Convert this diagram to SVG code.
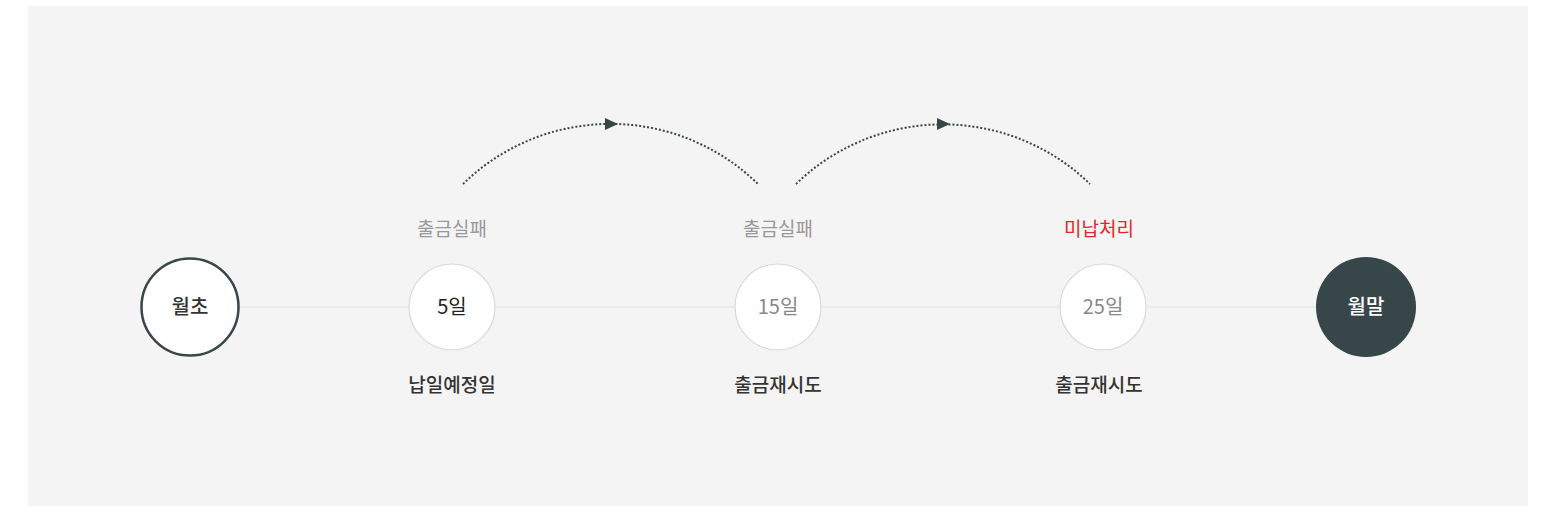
<svg xmlns="http://www.w3.org/2000/svg" width="1564" height="517" viewBox="0 0 1564 517">
<style>
.lbl{font-family:"Noto Sans CJK KR","Noto Sans",sans-serif;font-size:19px;text-anchor:middle}
.fail{fill:#999}
.red{fill:#e0282e}
.bot{fill:#333;font-weight:500}
.day{font-family:"Noto Sans CJK KR","Noto Sans",sans-serif;font-size:20px;text-anchor:middle}
.arc{fill:none;stroke:#374649;stroke-width:2;stroke-dasharray:2 2}
.small{fill:#fff;stroke:#d9d9d9;stroke-width:1.2}
</style>
<rect x="28" y="6" width="1500" height="500" fill="#f4f4f4"/>
<g id="connectors">
<line x1="240" y1="307" x2="1316" y2="307" stroke="#e2e2e2" stroke-width="1.2"/>
<path class="arc" d="M463,184 A211,211 0 0 1 758,184"/>
<polygon points="605,118 618,124 605,130" fill="#374649"/>
<path class="arc" d="M796,184 A211,211 0 0 1 1090,184"/>
<polygon points="937,118 950,124 937,130" fill="#374649"/>
</g>
<g id="start">
<circle cx="190" cy="307" r="48.5" fill="#fff" stroke="#374649" stroke-width="2.5"/>
<text class="day" x="190" y="314" fill="#333" font-weight="500">월초</text>
</g>
<g id="day5">
<text class="lbl fail" x="452" y="236">출금실패</text>
<circle class="small" cx="452" cy="307" r="43"/>
<text class="day" x="452" y="314" fill="#222">5일</text>
<text class="lbl bot" x="452" y="392">납일예정일</text>
</g>
<g id="day15">
<text class="lbl fail" x="778" y="236">출금실패</text>
<circle class="small" cx="778" cy="307" r="43"/>
<text class="day" x="778" y="314" fill="#888">15일</text>
<text class="lbl bot" x="778" y="392">출금재시도</text>
</g>
<g id="day25">
<text class="lbl red" x="1099" y="236">미납처리</text>
<circle class="small" cx="1103" cy="307" r="43"/>
<text class="day" x="1103" y="314" fill="#888">25일</text>
<text class="lbl bot" x="1099" y="392">출금재시도</text>
</g>
<g id="end">
<circle cx="1366" cy="307" r="50" fill="#374649"/>
<text class="day" x="1366" y="314" fill="#fff" font-weight="500">월말</text>
</g>
</svg>
